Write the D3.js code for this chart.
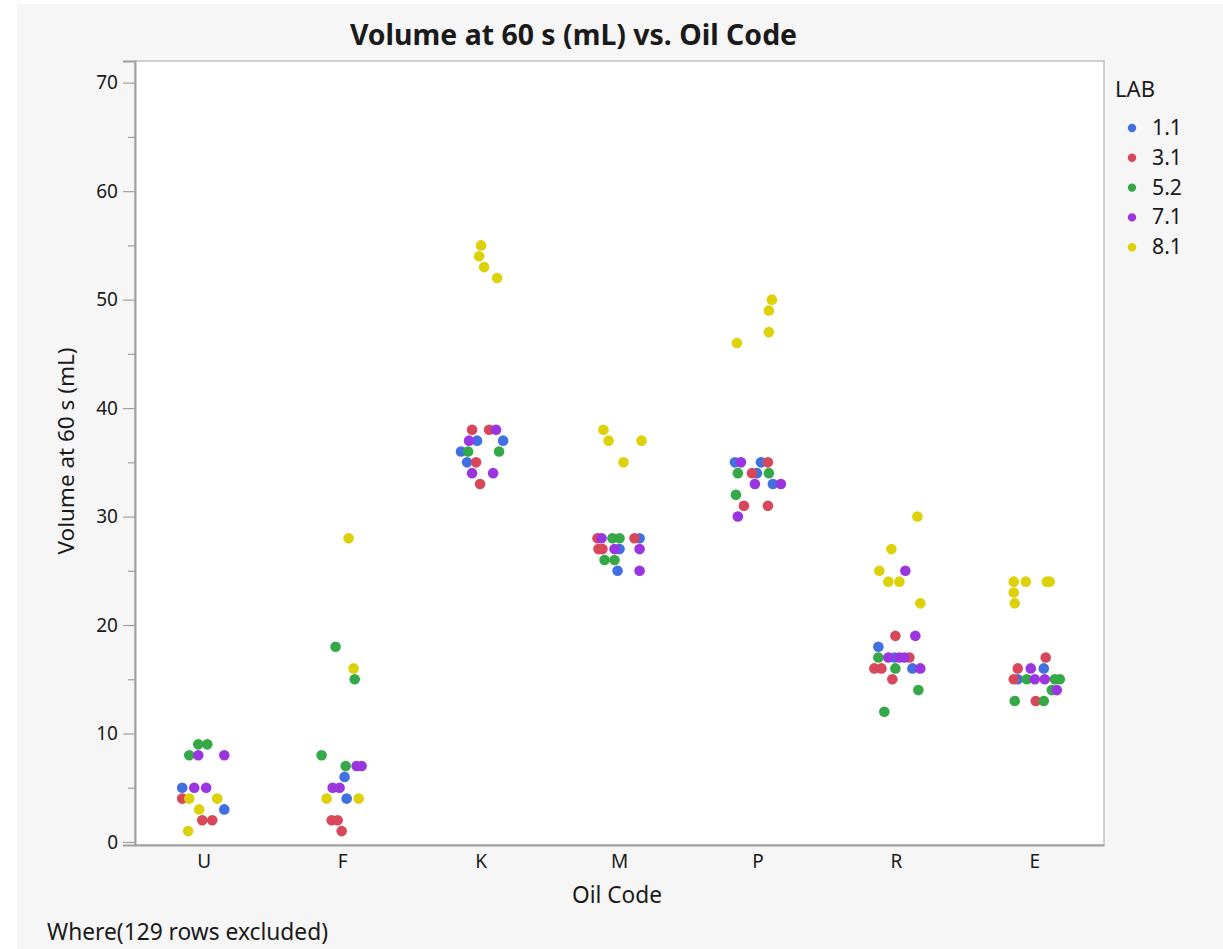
<!DOCTYPE html>
<html>
<head>
<meta charset="utf-8">
<script src="https://cdn.jsdelivr.net/npm/d3@7/dist/d3.min.js"></script>
<style>
  html, body { margin: 0; padding: 0; background: #ffffff; }
  svg { display: block; }
  text { font-family: "Noto Sans", "Open Sans", sans-serif; fill: #1a1a1a; }
</style>
</head>
<body>
<svg id="chart" width="1223" height="949"></svg>
<script>
// ---------------- data ----------------
const oilCodes = ["U", "F", "K", "M", "P", "R", "E"];
const labs = ["1.1", "3.1", "5.2", "7.1", "8.1"];
const labColors = ["#4170e0", "#d8475a", "#35a848", "#9b35e0", "#ddd10a"];
const yTickValues = [0, 10, 20, 30, 40, 50, 60, 70];
const yMinorTicks = [5, 15, 25, 35, 45, 55, 65];

// each point: [oil code, volume at 60 s (mL), horizontal jitter in band units]
const lab11 = [
  ["U", 5, -0.159], ["U", 3, 0.145],
  ["F", 6, 0.014], ["F", 4, 0.029],
  ["K", 37, -0.029], ["K", 37, 0.159], ["K", 36, -0.145], ["K", 35, -0.101],
  ["M", 28, 0.145], ["M", 27, 0], ["M", 25, -0.014],
  ["P", 35, -0.166], ["P", 35, 0.022], ["P", 34, -0.007], ["P", 33, 0.108],
  ["R", 18, -0.130], ["R", 17, -0.014], ["R", 16, 0.116],
  ["E", 16, 0.065], ["E", 15, -0.123]
];
const lab31 = [
  ["U", 4, -0.159], ["U", 2, -0.014], ["U", 2, 0.058],
  ["F", 2, -0.079], ["F", 2, -0.036], ["F", 1, -0.007],
  ["K", 38, -0.065], ["K", 38, 0.058], ["K", 35, -0.036], ["K", 33, -0.007],
  ["M", 28, -0.159], ["M", 28, 0.108], ["M", 27, -0.152], ["M", 27, -0.123],
  ["P", 35, 0.072], ["P", 34, -0.043], ["P", 31, -0.101], ["P", 31, 0.072],
  ["R", 19, -0.007], ["R", 17, 0.094], ["R", 16, -0.159], ["R", 16, -0.108], ["R", 15, -0.029],
  ["E", 17, 0.079], ["E", 16, -0.123], ["E", 15, -0.152], ["E", 13, 0.007]
];
const lab52 = [
  ["U", 9, -0.043], ["U", 9, 0.022], ["U", 8, -0.108],
  ["F", 18, -0.051], ["F", 15, 0.087], ["F", 8, -0.152], ["F", 7, 0.022],
  ["K", 36, -0.094], ["K", 36, 0.130],
  ["M", 28, -0.051], ["M", 28, 0], ["M", 26, -0.108], ["M", 26, -0.036],
  ["P", 34, -0.145], ["P", 34, 0.079], ["P", 32, -0.159],
  ["R", 17, -0.130], ["R", 16, -0.007], ["R", 14, 0.159], ["R", 12, -0.087],
  ["E", 15, -0.058], ["E", 15, 0.145], ["E", 15, 0.181], ["E", 14, 0.123], ["E", 13, -0.145], ["E", 13, 0.065]
];
const lab71 = [
  ["U", 8, -0.043], ["U", 8, 0.145], ["U", 5, -0.072], ["U", 5, 0.014],
  ["F", 7, 0.101], ["F", 7, 0.137], ["F", 5, -0.072], ["F", 5, -0.022],
  ["K", 38, 0.108], ["K", 37, -0.087], ["K", 34, -0.065], ["K", 34, 0.087],
  ["M", 28, -0.130], ["M", 27, -0.036], ["M", 27, 0.145], ["M", 25, 0.145],
  ["P", 35, -0.123], ["P", 33, -0.022], ["P", 33, 0.166], ["P", 30, -0.145],
  ["R", 25, 0.065], ["R", 19, 0.137], ["R", 17, -0.058], ["R", 17, 0.022], ["R", 17, 0.058], ["R", 16, 0.173],
  ["E", 16, -0.029], ["E", 15, 0], ["E", 15, 0.072], ["E", 14, 0.159]
];
const lab81 = [
  ["U", 4, -0.108], ["U", 4, 0.094], ["U", 3, -0.036], ["U", 1, -0.116],
  ["F", 28, 0.043], ["F", 16, 0.079], ["F", 4, -0.116], ["F", 4, 0.116],
  ["K", 55, 0], ["K", 54, -0.014], ["K", 53, 0.022], ["K", 52, 0.116],
  ["M", 38, -0.116], ["M", 37, -0.079], ["M", 37, 0.159], ["M", 35, 0.029],
  ["P", 50, 0.101], ["P", 49, 0.079], ["P", 47, 0.079], ["P", 46, -0.152],
  ["R", 30, 0.152], ["R", 27, -0.036], ["R", 25, -0.123], ["R", 24, -0.058], ["R", 24, 0.022], ["R", 22, 0.173],
  ["E", 24, -0.152], ["E", 24, -0.065], ["E", 24, 0.087], ["E", 24, 0.108], ["E", 23, -0.152], ["E", 22, -0.145]
];
const seriesByLab = [lab11, lab31, lab52, lab71, lab81];

const titleText = "Volume at 60 s (mL) vs. Oil Code";
const xTitle = "Oil Code";
const yTitle = "Volume at 60 s (mL)";
const legendTitle = "LAB";
const footnote = "Where(129 rows excluded)";

// ---------------- layout ----------------
const svg = d3.select("#chart");
const W = 1223, H = 949;
const plot = { left: 135, right: 1104, top: 61, bottom: 845 };
const FONT = '"Noto Sans", "Open Sans", sans-serif';
const TICK_FS = "19px";

const x = d3.scaleBand().domain(oilCodes).range([plot.left, plot.right]).padding(0);
const jitter = d3.scaleLinear().domain([-0.5, 0.5]).range([-x.bandwidth() / 2, x.bandwidth() / 2]);
const y = d3.scaleLinear().domain([-0.28, 72.0]).range([plot.bottom, plot.top]);
const color = d3.scaleOrdinal().domain(labs).range(labColors);

function fit(sel, target) {
  const node = sel.node();
  let fs = parseFloat(sel.attr("font-size"));
  for (let i = 0; i < 3; i++) {
    const w = node.getComputedTextLength();
    if (!w) break;
    fs = fs * target / w;
    sel.attr("font-size", fs.toFixed(2));
  }
  return fs;
}

// panel background
svg.append("rect").attr("x", 17).attr("y", 4).attr("width", W - 17).attr("height", H - 4)
  .attr("fill", "#f6f6f6");

// plot area
svg.append("rect")
  .attr("x", plot.left).attr("y", plot.top)
  .attr("width", plot.right - plot.left).attr("height", plot.bottom - plot.top)
  .attr("fill", "#ffffff").attr("stroke", "#b4b4b4").attr("stroke-width", 1.2);

// y axis
const yAxis = d3.axisLeft(y).tickValues(yTickValues).tickSize(12).tickPadding(5).tickFormat(d3.format("d"));
const gy = svg.append("g").attr("transform", `translate(${plot.left},0)`).call(yAxis)
  .attr("font-family", null).attr("font-size", null);
gy.select(".domain").attr("stroke", "#a0a0a0").attr("stroke-width", 2);
gy.selectAll(".tick line").attr("stroke", "#a0a0a0").attr("stroke-width", 1.2);
gy.selectAll(".tick text").style("font-size", TICK_FS).style("font-family", FONT).attr("fill", "#1a1a1a");

const yMinor = d3.axisLeft(y).tickValues(yMinorTicks).tickSize(7).tickFormat("");
const gym = svg.append("g").attr("transform", `translate(${plot.left},0)`).call(yMinor);
gym.select(".domain").remove();
gym.selectAll(".tick line").attr("stroke", "#a0a0a0").attr("stroke-width", 1.2);

// x axis (labels only)
const xAxis = d3.axisBottom(x).tickSize(0).tickPadding(10);
const gx = svg.append("g").attr("transform", `translate(0,${plot.bottom})`).call(xAxis)
  .attr("font-family", null).attr("font-size", null);
gx.select(".domain").attr("stroke", "#a0a0a0").attr("stroke-width", 2);
gx.selectAll(".tick text").style("font-size", TICK_FS).style("font-family", FONT).attr("fill", "#1a1a1a");

// points
const pts = [];
seriesByLab.forEach((arr, i) => arr.forEach(p => pts.push({ lab: labs[i], oil: p[0], v: p[1], j: p[2] })));
svg.append("g").selectAll("circle").data(pts).join("circle")
  .attr("cx", d => x(d.oil) + x.bandwidth() / 2 + jitter(d.j))
  .attr("cy", d => y(d.v))
  .attr("r", 5.3)
  .attr("fill", d => color(d.lab));

// title
const title = svg.append("text").attr("x", 573.5).attr("y", 45).attr("text-anchor", "middle")
  .attr("font-size", 24).attr("font-weight", "bold").attr("fill", "#000").text(titleText);
fit(title, 447);

// axis titles
const xt = svg.append("text").attr("x", 617).attr("y", 903).attr("text-anchor", "middle")
  .attr("font-size", 18).text(xTitle);
fit(xt, 90);
const yt = svg.append("text").attr("transform", "translate(74,451) rotate(-90)").attr("text-anchor", "middle")
  .attr("font-size", 18).text(yTitle);
fit(yt, 207);

// footnote
const fn = svg.append("text").attr("x", 47).attr("y", 940).attr("font-size", 18).text(footnote);
fit(fn, 281);

// legend
const lt = svg.append("text").attr("x", 1115).attr("y", 97).attr("font-size", 18).text(legendTitle);
fit(lt, 40);
const leg = svg.append("g").selectAll("g").data(labs).join("g")
  .attr("transform", (d, i) => `translate(1132,${128 + i * 29.8})`);
leg.append("circle").attr("r", 4.2).attr("fill", d => color(d));
const legTexts = leg.append("text").attr("x", 20).attr("y", 7).attr("font-size", 18).text(d => d);
const legFs = fit(legTexts.filter((d, i) => i === 0), 30);
legTexts.attr("font-size", legFs.toFixed(2));
</script>
</body>
</html>
